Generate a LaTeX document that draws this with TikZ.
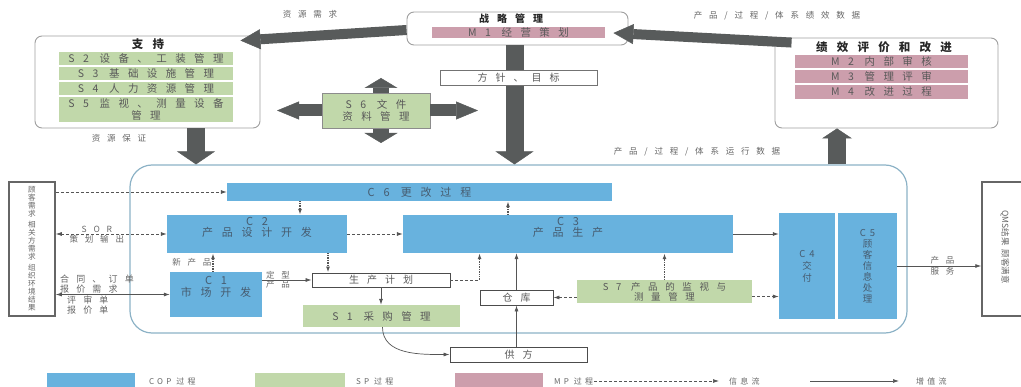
\documentclass[tikz,border=0pt]{standalone}
\usepackage{fontspec}
\setmainfont{Noto Sans CJK SC}
\newfontfamily\zhw{Noto Sans CJK SC}[LetterSpace=80]
\newfontfamily\zhn{Noto Sans CJK SC}[LetterSpace=40]
\newcommand{\fsz}[2]{\fontsize{#1}{#2}\selectfont}
\usetikzlibrary{arrows.meta}
\definecolor{copblue}{RGB}{104,178,222}
\definecolor{spgreen}{RGB}{193,216,170}
\definecolor{mppink}{RGB}{204,158,172}
\definecolor{fatgray}{RGB}{88,91,91}
\definecolor{frameblue}{RGB}{140,178,198}
\definecolor{linegray}{RGB}{85,85,85}
\definecolor{boxtxt}{RGB}{70,92,112}

\begin{document}
\begin{tikzpicture}[x=1pt,y=-1pt,
    groupbox/.style={draw=gray!75,line width=0.9pt,rounded corners=7pt,fill=white},
    boxtitle/.style={font=\zhw\bfseries\fsz{11.5}{13},text=black!85},
    barbox/.style={inner sep=0pt,align=center,text=black!65,font=\zhw\fsz{10.5}{12}},
    sp/.style={barbox,fill=spgreen},
    mp/.style={barbox,fill=mppink},
    cop/.style={inner sep=0pt,align=center,fill=copblue,text=boxtxt,font=\zhw\fsz{11}{11.5}},
    whitebox/.style={draw=black!70,line width=0.9pt,fill=white,inner sep=0pt,text=black!65,font=\zhw\fsz{10}{12}},
    lbl/.style={text=black!60,font=\zhw\fsz{8.5}{10},inner sep=1pt,align=left},
    lgd/.style={text=black!60,font=\zhn\fsz{8}{10},inner sep=1pt},
    fath/.style={draw=fatgray,line width=10pt,-{Triangle[width=20pt,length=20pt,line width=0.5pt]}},
    fatv/.style={draw=fatgray,line width=18pt,-{Triangle[width=38pt,length=13pt,line width=0.5pt]}},
    fats/.style={draw=fatgray,line width=12pt,-{Triangle[width=18pt,length=22pt,line width=0.5pt]}},
    flow/.style={draw=linegray,line width=0.7pt,-{Latex[length=6pt,width=4pt]}},
    info/.style={flow,densely dashed},
    dotinfo/.style={flow,densely dotted,line width=1.3pt}]
    \useasboundingbox (0,0) rectangle (1021,387);
    %flow labels
    \node[lbl] (resneed) at (310,14) {资源需求};
    \node[lbl] (perfdata) at (777,16) {产品/过程/体系绩效数据};
    \node[lbl] (resguar) at (119,138) {资源保证};
    \node[lbl] (rundata) at (697,152) {产品/过程/体系运行数据};
    %strategy
    \node[groupbox,minimum width=221,minimum height=33] (strat) at (517.5,28.5) {};
    \node[boxtitle,font=\zhw\bfseries\fsz{10}{12}] (strattitle) at (511,18.5) {战略管理};
    \node[mp,minimum width=173,minimum height=11] (m1) at (518.5,32.5) {M1 经营策划};
    %support
    \node[groupbox,minimum width=225,minimum height=92] (support) at (147.5,82) {};
    \node[boxtitle] (suptitle) at (148,44) {支持};
    \node[sp,minimum width=174,minimum height=13] (s2) at (146,58.5) {S2 设备、工装管理};
    \node[sp,minimum width=174,minimum height=13] (s3) at (146,73.5) {S3 基础设施管理};
    \node[sp,minimum width=174,minimum height=13] (s4) at (146,88.5) {S4 人力资源管理};
    \node[sp,minimum width=174,minimum height=25] (s5) at (146,109.5) {S5 监视、测量设备\\管理};
    %performance
    \node[groupbox,minimum width=223,minimum height=90] (perf) at (886.5,83) {};
    \node[boxtitle] (perftitle) at (884,47) {绩效评价和改进};
    \node[mp,minimum width=173,minimum height=13] (m2) at (881.5,61.5) {M2 内部审核};
    \node[mp,minimum width=173,minimum height=13] (m3) at (881.5,76.5) {M3 管理评审};
    \node[mp,minimum width=173,minimum height=14] (m4) at (881.5,92) {M4 改进过程};
    %frame
    \node[draw=frameblue,line width=1.2pt,rounded corners=22pt,minimum width=777,minimum height=168] (frame) at (518.5,249) {};
    %fat arrows
    \draw[fath] ([yshift=-1.5pt]strat.west) -- ([xshift=-20pt,yshift=-5pt]support.north east);
    \draw[fath] ([xshift=17pt,yshift=-5pt]perf.north west) -- ([xshift=-15pt,yshift=-4.5pt]strat.east);
    \coordinate (stratout) at ([xshift=-3pt]strat.south);
    \draw[fatv] (stratout) -- (stratout |- frame.north);
    \node[whitebox,draw=black!55,minimum width=157,minimum height=15] (goal) at (518.5,77.5) {方针、目标};
    \coordinate (supout) at ([xshift=48.5pt]support.south);
    \draw[fatv] (supout) -- (supout |- frame.north);
    \coordinate (perfin) at ([xshift=-49.5pt]perf.south);
    \draw[fatv,-{Triangle[width=30pt,length=10pt,line width=0.5pt]}] (perfin |- frame.north) -- (perfin);
    %documents
    \coordinate (docup) at (381,78);
    \coordinate (docdown) at (381,143);
    \draw[fats,line width=16pt,{Triangle[width=33pt,length=10pt,line width=0.5pt]}-{Triangle[width=33pt,length=10pt,line width=0.5pt]}] (docup) -- (docdown);
    \node[sp,draw=black!45,line width=0.9pt,minimum width=108,minimum height=35] (s6) at (376,110.5) {S6 文件\\资料管理};
    \coordinate (docright) at (478,110.5);
    \coordinate (docleft) at (277,110.5);
    \draw[fats] (s6.east) -- (docright);
    \draw[fats] (s6.west) -- (docleft);
    %processes
    \node[cop,minimum width=385,minimum height=18] (c6) at (419.5,192) {C6 更改过程};
    \node[cop,minimum width=180,minimum height=38] (c2) at (257,234) {C2\\产品设计开发\\[3pt]};
    \node[cop,minimum width=330,minimum height=38] (c3) at (568,234) {C3\\产品生产\\[3pt]};
    \node[cop,minimum width=92,minimum height=45] (c1) at (216,294.5) {C1\\市场开发\\[5pt]};
    \node[cop,minimum width=56,minimum height=106,font=\zhn\fsz{9.5}{12}] (c4) at (807,266) {C4\\交\\付};
    \node[cop,minimum width=59,minimum height=106,font=\zhn\fsz{9.5}{11}] (c5) at (867.5,266) {C5\\顾\\客\\信\\息\\处\\理};
    \node[whitebox,minimum width=138,minimum height=14] (plan) at (381,280) {生产计划};
    \node[sp,minimum width=157,minimum height=22] (s1) at (381.5,316) {S1 采购管理};
    \node[whitebox,minimum width=73,minimum height=15] (store) at (516.5,297.5) {仓库};
    \node[sp,minimum width=175,minimum height=23,font=\zhw\fsz{9.5}{10}] (s7) at (664.5,291.5) {S7 产品的监视与\\测量管理};
    \node[whitebox,minimum width=137,minimum height=15] (supplier) at (518.5,354.5) {供方};
    %outside boxes
    \node[draw=black!60,line width=1.5pt,fill=white,minimum width=46,minimum height=134,inner sep=0pt,align=center,text=black!60,font=\fsz{7.6}{8}] (cust) at (32,249) {顾\\客\\需\\求\\[3pt]相\\关\\方\\需\\求\\[3pt]组\\织\\环\\境\\结\\果};
    \node[draw=black!60,line width=1.5pt,fill=white,minimum width=48,minimum height=134] (qms) at (1006,249) {};
    \node[rotate=-90,text=black!60,font=\fsz{8.5}{10}] (qmstext) at (1005,247) {QMS结果\enspace 顾客满意};
    %connectors
    \draw[info] (cust.east |- c6.west) -- (c6.west);
    \draw[info,{Latex[length=6pt,width=4pt]}-{Latex[length=6pt,width=4pt]}] (cust.east |- c2.west) -- (c2.west)
        node[lbl,pos=.37,above] {SOR} node[lbl,pos=.37,below] {策划输出};
    \draw[flow,{Latex[length=6pt,width=4pt]}-{Latex[length=6pt,width=4pt]}] (cust.east |- c1.west) -- (c1.west)
        node[lbl,pos=0,anchor=south west,xshift=3pt,font=\zhw\fsz{9}{10}] {合同、订单\\报价需求}
        node[lbl,pos=0,anchor=north west,xshift=10pt,font=\zhw\fsz{9}{10}] {评审单\\报价单};
    \draw[dotinfo] ([xshift=43pt]c2.north |- c6.south) -- ([xshift=43pt]c2.north);
    \draw[dotinfo] ([xshift=-60pt]c3.north) -- ([xshift=-60pt]c3.north |- c6.south);
    \draw[info] (c2.east) -- (c3.west);
    \draw[dotinfo] ([xshift=-53pt]plan.north |- c2.south) -- ([xshift=-53pt]plan.north);
    \draw[dotinfo] ([xshift=-3pt]c1.north) -- ([xshift=-3pt]c1.north |- c2.south)
        node[lbl,midway,left] {新产品};
    \draw[flow] (c1.east |- plan.west) -- (plan.west)
        node[lbl,pos=.32,above,inner sep=0.5pt] {定型} node[lbl,pos=.32,below,inner sep=0.5pt] {产品};
    \draw[flow] (plan.south) -- (plan.south |- s1.north);
    \draw[info,-] (plan.east) -- (plan.east -| store.west);
    \draw[dotinfo] (plan.east -| store.west) -- (store.west |- c3.south);
    \draw[flow] (store.north) -- (store.north |- c3.south);
    \draw[flow] (store.south |- supplier.north) -- (store.south);
    \draw[info] (s7.west |- store.east) -- (store.east);
    \draw[dotinfo] (s7.north) -- (s7.north |- c3.south);
    \draw[flow] (c3.east) -- (c3.east -| c4.west);
    \draw[info] ([yshift=-5pt]s7.east) -- ([yshift=-5pt]s7.east -| c4.west);
    \draw[flow] (c5.east) -- (c5.east -| qms.west)
        node[lbl,pos=.54,above] {产品} node[lbl,pos=.54,below] {服务};
    \draw[flow] ([xshift=1pt]s1.south) to[out=-90,in=180] (supplier.west);
    %legend
    \node[cop,minimum width=88,minimum height=14] (lgcop) at (91,380) {};
    \node[lgd,anchor=west] (lgcoptxt) at (148,381) {COP 过程};
    \node[sp,minimum width=90,minimum height=14] (lgsp) at (300,380) {};
    \node[lgd,anchor=west] (lgsptxt) at (355,381) {SP 过程};
    \node[mp,minimum width=88,minimum height=14] (lgmp) at (499,380) {};
    \node[lgd,anchor=west] (lgmptxt) at (553,381) {MP 过程};
    \node[lgd,anchor=west] (lginfo) at (728,381) {信息流};
    \node[lgd,anchor=west] (lgval) at (915,381) {增值流};
    \draw[info,shorten >=9pt] (lgmptxt.east) -- (lginfo.west);
    \coordinate (lgflow) at (810,381);
    \draw[flow,shorten >=16pt] (lgflow) -- (lgval.west);
\end{tikzpicture}
\end{document}
